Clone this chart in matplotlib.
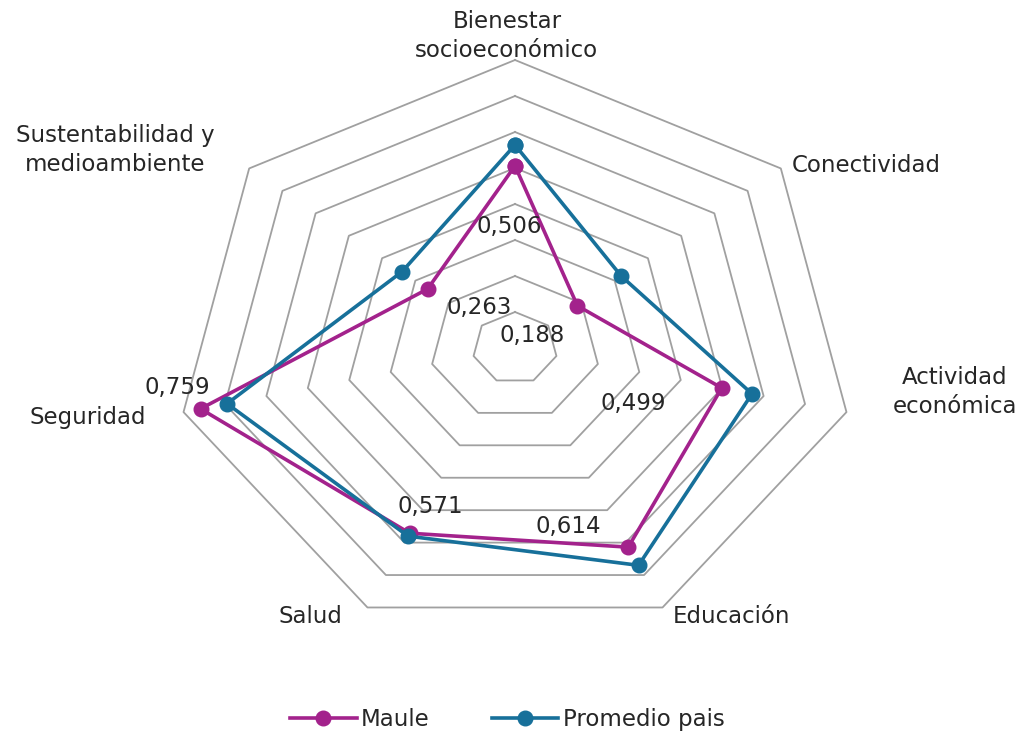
import numpy as np
import matplotlib
matplotlib.use("Agg")
import matplotlib.pyplot as plt

plt.rcParams['font.family'] = ['DejaVu Sans']

# Dimensiones del índice (sentido horario desde arriba)
categorias = ["Bienestar\nsocioeconómico", "Conectividad", "Actividad\neconómica",
              "Educación", "Salud", "Seguridad", "Sustentabilidad y\nmedioambiente"]
maule = [0.506, 0.188, 0.499, 0.614, 0.571, 0.759, 0.263]
promedio_pais = [0.564, 0.320, 0.572, 0.670, 0.580, 0.695, 0.340]
etiquetas_maule = ["0,506", "0,188", "0,499", "0,614", "0,571", "0,759", "0,263"]
anillos = [0.1, 0.2, 0.3, 0.4, 0.5, 0.6, 0.7, 0.8]
valor_max = 0.8

COLOR_MAULE = '#a3228c'
COLOR_PAIS = '#17709a'
COLOR_GRID = '#a0a0a0'
COLOR_TEXTO = '#262626'
TAM = 16.5

n = len(categorias)
angulos = np.pi / 2 - np.arange(n) * 2 * np.pi / n


def a_xy(valores):
    r = np.asarray(valores) / valor_max
    x = r * np.cos(angulos)
    y = r * np.sin(angulos)
    return np.append(x, x[0]), np.append(y, y[0])


fig = plt.figure(figsize=(10.21, 7.35), dpi=100)
ax = fig.add_axes([0, 0, 1, 1])
# una unidad = radio exterior (340 px en horizontal, 288 px en vertical)
ax.set_xlim(-515 / 340, (1021 - 515) / 340)
ax.set_ylim(-(735 - 348) / 288, 348 / 288)
ax.axis('off')

# anillos heptagonales
for v in anillos:
    gx, gy = a_xy([v] * n)
    ax.plot(gx, gy, color=COLOR_GRID, lw=1.3, zorder=1)

xm, ym = a_xy(maule)
ax.plot(xm, ym, color=COLOR_MAULE, lw=2.6, marker='o', ms=10.5, zorder=3, label='Maule')
xp, yp = a_xy(promedio_pais)
ax.plot(xp, yp, color=COLOR_PAIS, lw=2.6, marker='o', ms=10.5, zorder=4, label='Promedio pais')

# etiquetas de las dimensiones
pos_cat = [(-0.024, 1.083, 'center'), (0.815, 0.632, 'left'), (1.294, -0.153, 'center'),
           (0.638, -0.934, 'center'), (-0.603, -0.934, 'center'), (-1.256, -0.243, 'center'),
           (-1.176, 0.6875, 'center')]
for texto, (x, y, ha) in zip(categorias, pos_cat):
    ax.text(x, y, texto, ha=ha, va='center', fontsize=TAM, color=COLOR_TEXTO,
            linespacing=1.3)

# valores de Maule
desplaz = [(-6, -61), (-45, -30), (-89, -16), (-60, 21), (21, 27), (-23, 21), (52, -19)]
for i, (etq, (dx, dy)) in enumerate(zip(etiquetas_maule, desplaz)):
    ax.annotate(etq, (xm[i], ym[i]), xytext=(dx, dy), textcoords='offset pixels',
                ha='center', va='center', fontsize=TAM, color=COLOR_TEXTO, zorder=5)

fig.legend(loc='lower center', bbox_to_anchor=(0.497, -0.022), ncol=2, frameon=False,
           fontsize=TAM, handlelength=2.9, columnspacing=2.7, handletextpad=0.2,
           labelcolor=COLOR_TEXTO)

fig.savefig('out.png', dpi=100, facecolor='white')
